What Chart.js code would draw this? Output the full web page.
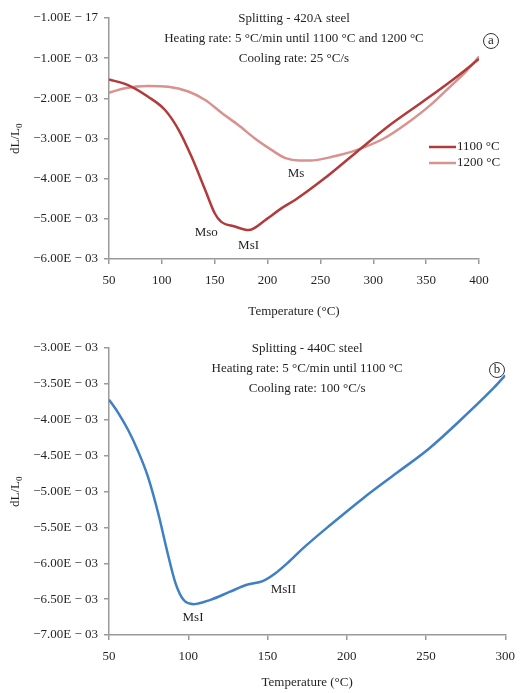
<!DOCTYPE html>
<html>
<head>
<meta charset="utf-8">
<script src="https://cdn.jsdelivr.net/npm/chart.js@4.4.1/dist/chart.umd.min.js"></script>
<style>
  body { margin: 0; background: #fff; }
  .box { position: absolute; left: 0; width: 524px; }
  #boxA { top: 0; height: 330px; }
  #boxB { top: 330px; height: 363px; }
</style>
</head>
<body>
<div class="box" id="boxA"><canvas id="chartA" width="524" height="330"></canvas></div>
<div class="box" id="boxB"><canvas id="chartB" width="524" height="363"></canvas></div>
<script>
// values of dL/L0 are given in units of 1e-3

// (a) 420A steel
var tempA1100 = [50, 68, 87, 103, 116, 128, 141, 150, 156, 169, 182, 198, 213, 226, 253, 284, 316, 347, 379, 400];
var dlA1100 = [-1.53, -1.67, -1.96, -2.29, -2.79, -3.45, -4.28, -4.86, -5.07, -5.19, -5.28, -5.03, -4.74, -4.53, -4.01, -3.34, -2.66, -2.08, -1.46, -1.02];
var tempA1200 = [50, 65, 87, 106, 125, 141, 157, 172, 188, 204, 217, 230, 240, 262, 284, 310, 332, 354, 373, 388, 400];
var dlA1200 = [-1.86, -1.75, -1.69, -1.71, -1.83, -2.04, -2.37, -2.66, -3.00, -3.29, -3.49, -3.55, -3.55, -3.45, -3.29, -3.00, -2.62, -2.17, -1.70, -1.32, -0.96];
var yTicksA = [0, -1, -2, -3, -4, -5, -6];
var yLabelsA = ['\u22121.00E \u2212 17', '\u22121.00E \u2212 03', '\u22122.00E \u2212 03', '\u22123.00E \u2212 03', '\u22124.00E \u2212 03', '\u22125.00E \u2212 03', '\u22126.00E \u2212 03'];
var xTicksA = [50, 100, 150, 200, 250, 300, 350, 400];

// (b) 440C steel
var tempB = [50, 56, 62, 68, 74.5, 81, 87, 92, 97, 103.5, 114, 126, 137, 147, 155, 163, 172, 190, 210, 231, 252, 272, 293, 300];
var dlB = [-3.72, -3.91, -4.14, -4.42, -4.79, -5.30, -5.86, -6.28, -6.51, -6.57, -6.51, -6.40, -6.30, -6.25, -6.14, -5.99, -5.80, -5.46, -5.10, -4.75, -4.40, -4.00, -3.55, -3.38];
var yTicksB = [-3, -3.5, -4, -4.5, -5, -5.5, -6, -6.5, -7];
var yLabelsB = ['\u22123.00E \u2212 03', '\u22123.50E \u2212 03', '\u22124.00E \u2212 03', '\u22124.50E \u2212 03', '\u22125.00E \u2212 03', '\u22125.50E \u2212 03', '\u22126.00E \u2212 03', '\u22126.50E \u2212 03', '\u22127.00E \u2212 03'];
var xTicksB = [50, 100, 150, 200, 250, 300];

var FONT = '"Liberation Serif", "Times New Roman", serif';
var TXT = '#231f20';
var AXIS = '#9a9a9a';

function pts(xs, ys) {
    return xs.map(function(x, i) { return { x: x, y: ys[i] }; });
}

function makeScales(xTicks, yTicks, yLabels, xHeight) {
    return {
        x: {
            type: 'linear',
            min: xTicks[0],
            max: xTicks[xTicks.length - 1],
            afterBuildTicks: function(s) { s.ticks = xTicks.map(function(v) { return { value: v }; }); },
            afterFit: function(s) { s.height = xHeight; },
            grid: { drawOnChartArea: false, drawTicks: true, tickLength: 5, color: AXIS, lineWidth: 1.5 },
            border: { display: true, color: AXIS, width: 1.5 },
            ticks: { color: TXT, font: { family: FONT, size: 13 }, padding: 9, maxRotation: 0 }
        },
        y: {
            type: 'linear',
            min: yTicks[yTicks.length - 1],
            max: yTicks[0],
            afterBuildTicks: function(s) { s.ticks = yTicks.map(function(v) { return { value: v }; }); },
            afterFit: function(s) { s.width = 109; },
            grid: { drawOnChartArea: false, drawTicks: true, tickLength: 5, color: AXIS, lineWidth: 1.5 },
            border: { display: true, color: AXIS, width: 1.5 },
            ticks: {
                color: TXT, font: { family: FONT, size: 13 }, padding: 6,
                callback: function(v, i) { return yLabels[i]; }
            }
        }
    };
}

// draws titles, axis titles, point labels, legend and panel letter
function textPlugin(cfg) {
    return {
        id: 'texts',
        afterDraw: function(chart) {
            var ctx = chart.ctx;
            var a = chart.chartArea;
            var xs = chart.scales.x, ys = chart.scales.y;
            ctx.save();
            ctx.fillStyle = TXT;
            ctx.font = '13px ' + FONT;
            ctx.textAlign = 'center';
            ctx.textBaseline = 'middle';
            var cx = (a.left + a.right) / 2;
            cfg.title.forEach(function(line, i) {
                ctx.fillText(line, cx, a.top + 1 + i * 20);
            });
            // x axis title
            ctx.fillText('Temperature (\u00b0C)', cx, a.bottom + cfg.xTitleOffset);
            // y axis title
            ctx.save();
            ctx.translate(16, (a.top + a.bottom) / 2);
            ctx.rotate(-Math.PI / 2);
            ctx.textAlign = 'left';
            var w1 = ctx.measureText('dL/L').width;
            ctx.fillText('dL/L', -(w1 + 5) / 2, 0);
            ctx.font = '9px ' + FONT;
            ctx.fillText('0', -(w1 + 5) / 2 + w1, 4);
            ctx.restore();
            // point labels
            ctx.font = '13px ' + FONT;
            cfg.marks.forEach(function(m) {
                ctx.fillText(m.text, xs.getPixelForValue(m.x), ys.getPixelForValue(m.y));
            });
            // panel letter
            ctx.beginPath();
            ctx.strokeStyle = '#333';
            ctx.lineWidth = 1;
            ctx.arc(cfg.letterAt[0], cfg.letterAt[1], 7.5, 0, Math.PI * 2);
            ctx.stroke();
            ctx.fillText(cfg.letter, cfg.letterAt[0], cfg.letterAt[1]);
            // legend
            if (cfg.legend) {
                chart.data.datasets.forEach(function(ds, i) {
                    var y = cfg.legend[1] + i * 16;
                    ctx.beginPath();
                    ctx.strokeStyle = ds.borderColor;
                    ctx.lineWidth = 2.5;
                    ctx.moveTo(cfg.legend[0], y);
                    ctx.lineTo(cfg.legend[0] + 27, y);
                    ctx.stroke();
                    ctx.textAlign = 'left';
                    ctx.fillText(ds.label, cfg.legend[0] + 28, y);
                });
            }
            ctx.restore();
        }
    };
}

function lineDs(label, data, color) {
    return {
        label: label,
        data: data,
        borderColor: color,
        borderWidth: 2.5,
        pointRadius: 0,
        fill: false,
        cubicInterpolationMode: 'monotone'
    };
}

new Chart(document.getElementById('chartA'), {
    type: 'line',
    data: {
        datasets: [
            lineDs('1100 \u00b0C', pts(tempA1100, dlA1100), '#b23a3b'),
            lineDs('1200 \u00b0C', pts(tempA1200, dlA1200), '#d8928f')
        ]
    },
    options: {
        responsive: false,
        animation: false,
        devicePixelRatio: 1,
        layout: { padding: { top: 18, right: 45, left: 0, bottom: 0 } },
        plugins: { legend: { display: false }, tooltip: { enabled: false } },
        scales: makeScales(xTicksA, yTicksA, yLabelsA, 71)
    },
    plugins: [textPlugin({
        title: ['Splitting - 420A steel', 'Heating rate: 5 \u00b0C/min until 1100 \u00b0C and 1200 \u00b0C', 'Cooling rate: 25 \u00b0C/s'],
        xTitleOffset: 53,
        marks: [
            { text: 'Ms', x: 227, y: -3.88 },
            { text: 'Mso', x: 142, y: -5.33 },
            { text: 'MsI', x: 182, y: -5.67 }
        ],
        letter: 'a',
        letterAt: [491, 41],
        legend: [429, 147]
    })]
});

new Chart(document.getElementById('chartB'), {
    type: 'line',
    data: {
        datasets: [lineDs('440C', pts(tempB, dlB), '#3f7fc6')]
    },
    options: {
        responsive: false,
        animation: false,
        devicePixelRatio: 1,
        layout: { padding: { top: 18, right: 13, left: 0, bottom: 0 } },
        plugins: { legend: { display: false }, tooltip: { enabled: false } },
        scales: makeScales(xTicksB, yTicksB, yLabelsB, 58)
    },
    plugins: [textPlugin({
        title: ['Splitting - 440C steel', 'Heating rate: 5 \u00b0C/min until 1100 \u00b0C', 'Cooling rate: 100 \u00b0C/s'],
        xTitleOffset: 48,
        marks: [
            { text: 'MsI', x: 103, y: -6.76 },
            { text: 'MsII', x: 160, y: -6.37 }
        ],
        letter: 'b',
        letterAt: [497, 40],
        legend: null
    })]
});
</script>
</body>
</html>
